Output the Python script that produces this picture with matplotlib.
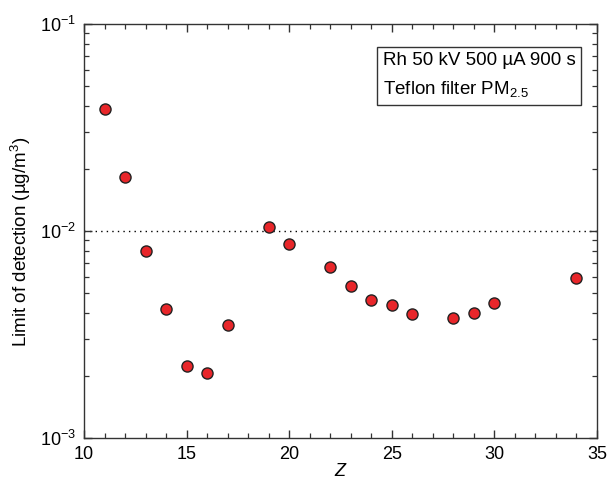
"""Limit of detection vs atomic number Z (log scale)."""

import matplotlib

matplotlib.use("Agg")
import matplotlib.pyplot as plt  # noqa: E402
from matplotlib.ticker import LogLocator, MultipleLocator, NullFormatter  # noqa: E402

plt.rcParams["font.family"] = ["Liberation Sans", "DejaVu Sans"]
plt.rcParams["mathtext.fontset"] = "custom"
plt.rcParams["mathtext.rm"] = "Liberation Sans"
plt.rcParams["mathtext.it"] = "Liberation Sans:italic"

# Atomic number and detection limit (ug/m3)
z_values = [11, 12, 13, 14, 15, 16, 17, 19, 20, 22, 23, 24, 25, 26, 28, 29, 30, 34]
lod_values = [0.0387, 0.0183, 0.0080, 0.00422, 0.00223, 0.00205, 0.00352,
              0.0105, 0.00866, 0.00668, 0.0054, 0.00465, 0.0044, 0.00399,
              0.00379, 0.00402, 0.00451, 0.00594]
reference_level = 1e-2

MARKER_FACE = "#E8262A"
EDGE = "#222222"

fig = plt.figure(figsize=(6.09, 4.87), dpi=100)
ax = fig.add_axes([84 / 609, 1 - 438 / 487, 513 / 609, 414 / 487])

ax.axhline(reference_level, color="black", linestyle=(0, (1, 3)), linewidth=1.0, zorder=1)
ax.plot(z_values, lod_values, linestyle="none", marker="o", markersize=8,
        markerfacecolor=MARKER_FACE, markeredgecolor=EDGE, markeredgewidth=1.0, zorder=3)

ax.set_yscale("log")
ax.set_xlim(10, 35)
ax.set_ylim(1e-3, 1e-1)
ax.xaxis.set_major_locator(MultipleLocator(5))
ax.xaxis.set_minor_locator(MultipleLocator(1))
ax.yaxis.set_major_locator(LogLocator(base=10, numticks=5))
ax.yaxis.set_minor_locator(LogLocator(base=10, subs=range(2, 10), numticks=20))
ax.yaxis.set_minor_formatter(NullFormatter())

ax.tick_params(which="both", direction="in", top=True, right=True, labelsize=13,
               color="#333333")
ax.tick_params(which="major", length=6, width=1.0, pad=6)
ax.tick_params(which="minor", length=3.5, width=0.9)
for spine in ax.spines.values():
    spine.set_color("#333333")
    spine.set_linewidth(1.0)

ax.set_xlabel("$Z$", fontsize=13, labelpad=0)
ax.set_ylabel("Limit of detection (µg/m$^3$)", fontsize=13.5)
ax.yaxis.set_label_coords(-0.100, 0.475)

ax.text(0.583, 0.876, "Rh 50 kV 500 µA 900 s\nTeflon filter PM$_{2.5}$",
        transform=ax.transAxes, ha="left", va="center", multialignment="left",
        fontsize=13.5, linespacing=1.7,
        bbox=dict(boxstyle="square,pad=0.3", facecolor="white", edgecolor="#333333",
                  linewidth=1.0))

fig.savefig("out.png", dpi=100)
